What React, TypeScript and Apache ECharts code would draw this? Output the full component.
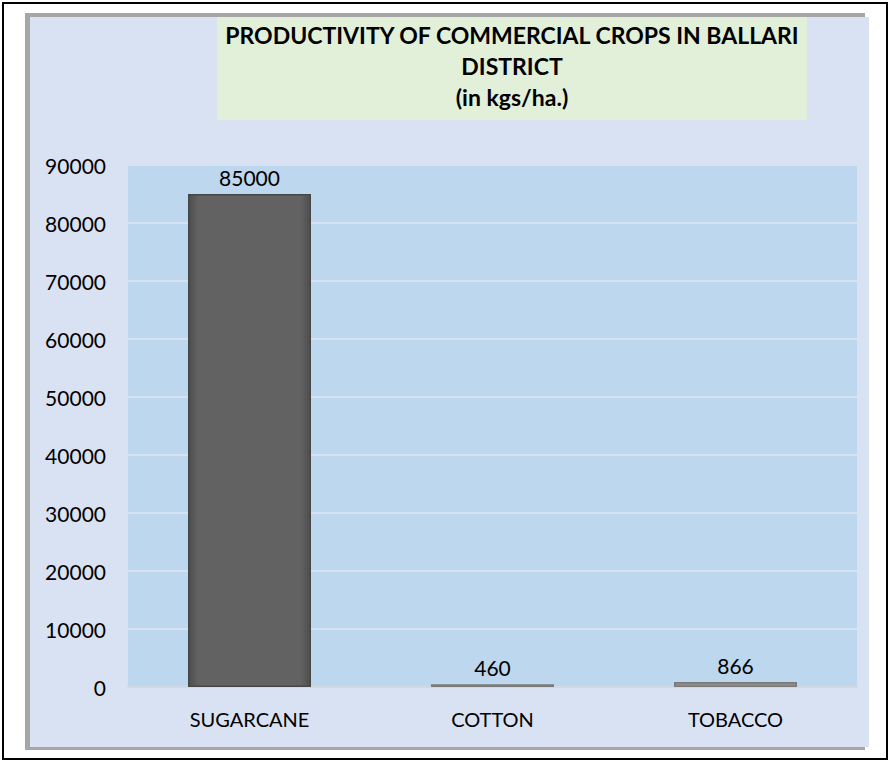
import React, { useEffect, useRef } from "react";
import * as echarts from "echarts";

const categories = ["SUGARCANE", "COTTON", "TOBACCO"];
const values = [85000, 460, 866];
const barColors = ["#606060", "#C4C4C4", "#8E8E8E"];
const titleLines = ["PRODUCTIVITY OF COMMERCIAL CROPS IN BALLARI", "DISTRICT", "(in kgs/ha.)"];

const FONT = "Lato, 'Open Sans', sans-serif";

export default function App() {
  const ref = useRef<HTMLDivElement>(null);
  useEffect(() => {
    if (!ref.current) return;
    const chart = echarts.init(ref.current, undefined, { renderer: "svg" });
    chart.setOption({
      animation: false,
      backgroundColor: "#FFFFFF",
      graphic: [
        { type: "rect", z: -10, shape: { x: 3, y: 3, width: 884, height: 756 }, style: { fill: "#FFFFFF", stroke: "#000000", lineWidth: 2 } },
        { type: "rect", z: -9, shape: { x: 25, y: 13, width: 840, height: 737 }, style: { fill: "#A6A6A6" } },
        { type: "rect", z: -8, shape: { x: 30, y: 17, width: 839, height: 730 }, style: { fill: "#D9E2F3" } },
        { type: "rect", z: -7, shape: { x: 217, y: 17, width: 590, height: 103 }, style: { fill: "#E2EFD9" } },
        ...titleLines.map((t, i) => ({
          type: "text",
          z: 10,
          x: 512,
          y: 35 + i * 31,
          style: {
            text: t,
            fill: "#000000",
            font: `bold 23px ${FONT}`,
            align: "center",
            verticalAlign: "middle",
          },
        })),
      ],
      grid: {
        left: 128,
        top: 165,
        width: 729,
        height: 522,
        show: true,
        backgroundColor: "#BDD7EE",
        borderWidth: 0,
      },
      xAxis: {
        type: "category",
        data: categories,
        axisTick: { show: false },
        axisLine: { show: true, lineStyle: { color: "#D0D8E2", width: 2 } },
        axisLabel: { color: "#000000", fontSize: 20, fontFamily: FONT, margin: 22 },
      },
      yAxis: {
        type: "value",
        min: 0,
        max: 90000,
        interval: 10000,
        axisLine: { show: false },
        axisTick: { show: false },
        splitLine: { show: true, lineStyle: { color: "#D6E2F0", width: 2 } },
        axisLabel: {
          color: "#000000",
          fontSize: 21,
          fontFamily: FONT,
          margin: 22,
          formatter: (v: number) => String(v),
        },
      },
      series: [
        {
          type: "bar",
          barWidth: 123,
          data: values.map((v, i) => ({
            value: v,
            itemStyle: {
              color:
                i === 0
                  ? {
                      type: "linear",
                      x: 0,
                      y: 0,
                      x2: 1,
                      y2: 0,
                      colorStops: [
                        { offset: 0, color: "#4E4E4E" },
                        { offset: 0.08, color: "#626262" },
                        { offset: 0.92, color: "#626262" },
                        { offset: 1, color: "#4E4E4E" },
                      ],
                    }
                  : barColors[i],
              borderColor: i === 0 ? "#474747" : "#7A7A7A",
              borderWidth: 1.5,
            },
          })),
          label: {
            show: true,
            position: "top",
            distance: 6,
            color: "#000000",
            fontSize: 21,
            fontFamily: FONT,
          },
        },
      ],
    });
    return () => chart.dispose();
  }, []);
  return <div ref={ref} style={{ position: "fixed", left: 0, top: 0, width: 888, height: 762 }} />;
}
